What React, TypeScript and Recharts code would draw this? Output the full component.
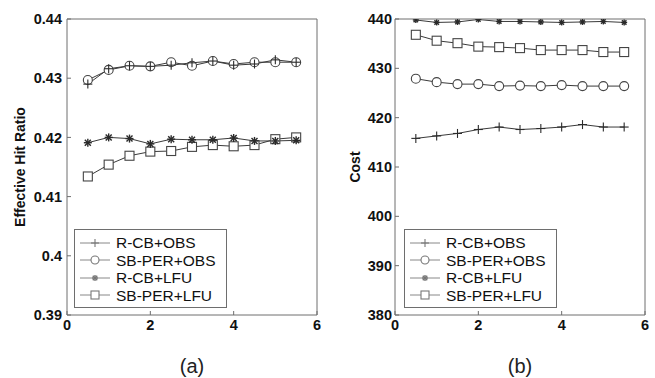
import React from "react"
import { LineChart, Line, XAxis, YAxis, Legend } from "recharts"

// x positions shared by every series
const XS = [0.5, 1, 1.5, 2, 2.5, 3, 3.5, 4, 4.5, 5, 5.5]
const X_TICKS = [0, 2, 4, 6]

// (a) effective hit ratio
const HIT_RCB_OBS = [0.429, 0.4316, 0.4321, 0.432, 0.4322, 0.4326, 0.4329, 0.4322, 0.4324, 0.4331, 0.4327]
const HIT_SBPER_OBS = [0.4297, 0.4314, 0.4321, 0.432, 0.4327, 0.4321, 0.4329, 0.4324, 0.4327, 0.4327, 0.4327]
const HIT_RCB_LFU = [0.4191, 0.42, 0.4198, 0.4189, 0.4197, 0.4196, 0.4196, 0.4199, 0.4194, 0.4194, 0.4195]
const HIT_SBPER_LFU = [0.4134, 0.4154, 0.4169, 0.4176, 0.4177, 0.4184, 0.4187, 0.4185, 0.4187, 0.4197, 0.42]
const HIT_TICKS = [0.39, 0.4, 0.41, 0.42, 0.43, 0.44]

// (b) cost
const COST_RCB_OBS = [415.8, 416.3, 416.8, 417.6, 418.1, 417.6, 417.8, 418.1, 418.6, 418.1, 418.1]
const COST_SBPER_OBS = [427.9, 427.2, 426.8, 426.8, 426.4, 426.5, 426.4, 426.6, 426.4, 426.4, 426.4]
const COST_RCB_LFU = [439.8, 439.3, 439.4, 439.9, 439.5, 439.5, 439.4, 439.3, 439.4, 439.5, 439.3]
const COST_SBPER_LFU = [436.8, 435.6, 435.1, 434.4, 434.3, 434.1, 433.7, 433.7, 433.7, 433.3, 433.3]
const COST_TICKS = [380, 390, 400, 410, 420, 430, 440]

const NAMES = ["R-CB+OBS", "SB-PER+OBS", "R-CB+LFU", "SB-PER+LFU"]
const MARKERS = ["plus", "circle", "star", "square"] as const
type Marker = (typeof MARKERS)[number]

const FONT = "'Liberation Sans', Arial, sans-serif"
const FRAME = "#6e6e6e"
const LINE = "#3a3a3a"

function drawMarker(kind: Marker, cx: number, cy: number, color: string, small = false, s = 4.5) {
  if (kind === "plus") {
    return (
      <g stroke={color} strokeWidth={1.1}>
        <line x1={cx - s} y1={cy} x2={cx + s} y2={cy} />
        <line x1={cx} y1={cy - s} x2={cx} y2={cy + s} />
      </g>
    )
  }
  if (kind === "circle") return <circle cx={cx} cy={cy} r={s} fill="#fff" stroke={color} strokeWidth={1.1} />
  if (kind === "square")
    return <rect x={cx - s} y={cy - s} width={s * 2} height={s * 2} fill="#fff" stroke={color} strokeWidth={1.1} />
  const r = small ? 3 : 4
  const d = r * 0.75
  return (
    <g stroke={color} strokeWidth={1.4}>
      <line x1={cx - r} y1={cy} x2={cx + r} y2={cy} />
      <line x1={cx} y1={cy - r} x2={cx} y2={cy + r} />
      <line x1={cx - d} y1={cy - d} x2={cx + d} y2={cy + d} />
      <line x1={cx - d} y1={cy + d} x2={cx + d} y2={cy - d} />
    </g>
  )
}

function LegendBox() {
  return (
    <div
      style={{
        border: `1px solid ${FRAME}`,
        background: "#fff",
        width: 151,
        padding: "4px 0 3px 0",
        fontFamily: FONT,
        fontSize: 15.5,
        color: "#111",
        lineHeight: "17.5px",
      }}
    >
      {NAMES.map((name, i) => (
        <div key={name} style={{ display: "flex", alignItems: "center", height: 17.5 }}>
          <svg width={34} height={14} style={{ marginLeft: 5, marginRight: 2 }}>
            <line x1={0} y1={7} x2={30} y2={7} stroke="#888" strokeWidth={1} />
            {drawMarker(MARKERS[i], 15, 7, "#777", true, 4)}
          </svg>
          <span>{name}</span>
        </div>
      ))}
    </div>
  )
}

interface PanelProps {
  series: number[][]
  domain: [number, number]
  ticks: number[]
  yTitle: string
  titleX: number
  caption: string
  width: number
  tickGap: number
  smallStar?: boolean
}

function Panel({ series, domain, ticks, yTitle, titleX, caption, width, tickGap, smallStar }: PanelProps) {
  const data = XS.map((x, i) => {
    const row: Record<string, number> = { x }
    series.forEach((s, k) => (row["s" + k] = s[i]))
    return row
  })
  // circles first so the plus markers sit on top of them
  const order = [1, 0, 3, 2]
  const tickStyle = { fontFamily: FONT, fontSize: 14.5, fontWeight: 700, fill: "#111" }

  return (
    <LineChart width={width} height={378} data={data} margin={{ top: 18, right: width - 330 + 12, left: 0, bottom: 3 }}>
      <XAxis
        dataKey="x"
        type="number"
        domain={[0, 6]}
        ticks={X_TICKS}
        tickSize={-4}
        tickMargin={9}
        height={60}
        stroke={FRAME}
        tick={tickStyle}
        label={({ viewBox }: any) => (
          <text x={viewBox.x + viewBox.width / 2} y={373} textAnchor="middle" fontFamily={FONT} fontSize={20} fill="#222">
            {caption}
          </text>
        )}
      />
      <XAxis xAxisId="top" orientation="top" type="number" domain={[0, 6]} ticks={X_TICKS} tickSize={-4} height={1} stroke={FRAME} tick={false} />
      <YAxis
        type="number"
        domain={domain}
        ticks={ticks}
        allowDataOverflow
        tickSize={-4}
        tickMargin={tickGap}
        width={67}
        stroke={FRAME}
        tick={tickStyle}
        label={({ viewBox }: any) => (
          <text
            x={viewBox.x + titleX}
            y={viewBox.y + viewBox.height / 2}
            transform={`rotate(-90 ${viewBox.x + titleX} ${viewBox.y + viewBox.height / 2})`}
            textAnchor="middle"
            dominantBaseline="central"
            fontFamily={FONT}
            fontSize={14}
            fontWeight={700}
            fill="#111"
          >
            {yTitle}
          </text>
        )}
      />
      <YAxis yAxisId="right" orientation="right" type="number" domain={domain} ticks={ticks} tickSize={-4} width={1} stroke={FRAME} tick={false} />
      {order.map((k) => (
        <Line
          key={k}
          dataKey={"s" + k}
          name={NAMES[k]}
          stroke={LINE}
          strokeWidth={1}
          isAnimationActive={false}
          dot={(p: any) => <g key={p.index}>{drawMarker(MARKERS[k], p.cx, p.cy, k === 0 || k === 2 ? "#2a2a2a" : "#444", smallStar)}</g>}
          activeDot={false}
        />
      ))}
      <Legend
        layout="vertical"
        align="center"
        verticalAlign="middle"
        content={() => <LegendBox />}
        wrapperStyle={{ left: width === 330 ? 74 : 76, top: 229, width: "auto", height: "auto" }}
      />
    </LineChart>
  )
}

export default function App() {
  return (
    <div style={{ position: "absolute", left: 0, top: 0, width: 655, height: 378, background: "#fff" }}>
      <div style={{ position: "absolute", left: 0, top: 0 }}>
        <Panel
          series={[HIT_RCB_OBS, HIT_SBPER_OBS, HIT_RCB_LFU, HIT_SBPER_LFU]}
          domain={[0.39, 0.44]}
          ticks={HIT_TICKS}
          yTitle="Effective Hit Ratio"
          titleX={20}
          caption="(a)"
          width={330}
          tickGap={9}
        />
      </div>
      <div style={{ position: "absolute", left: 328, top: 0 }}>
        <Panel
          series={[COST_RCB_OBS, COST_SBPER_OBS, COST_RCB_LFU, COST_SBPER_LFU]}
          domain={[380, 440]}
          ticks={COST_TICKS}
          yTitle="Cost"
          titleX={27}
          caption="(b)"
          width={327}
          tickGap={7}
          smallStar
        />
      </div>
    </div>
  )
}
